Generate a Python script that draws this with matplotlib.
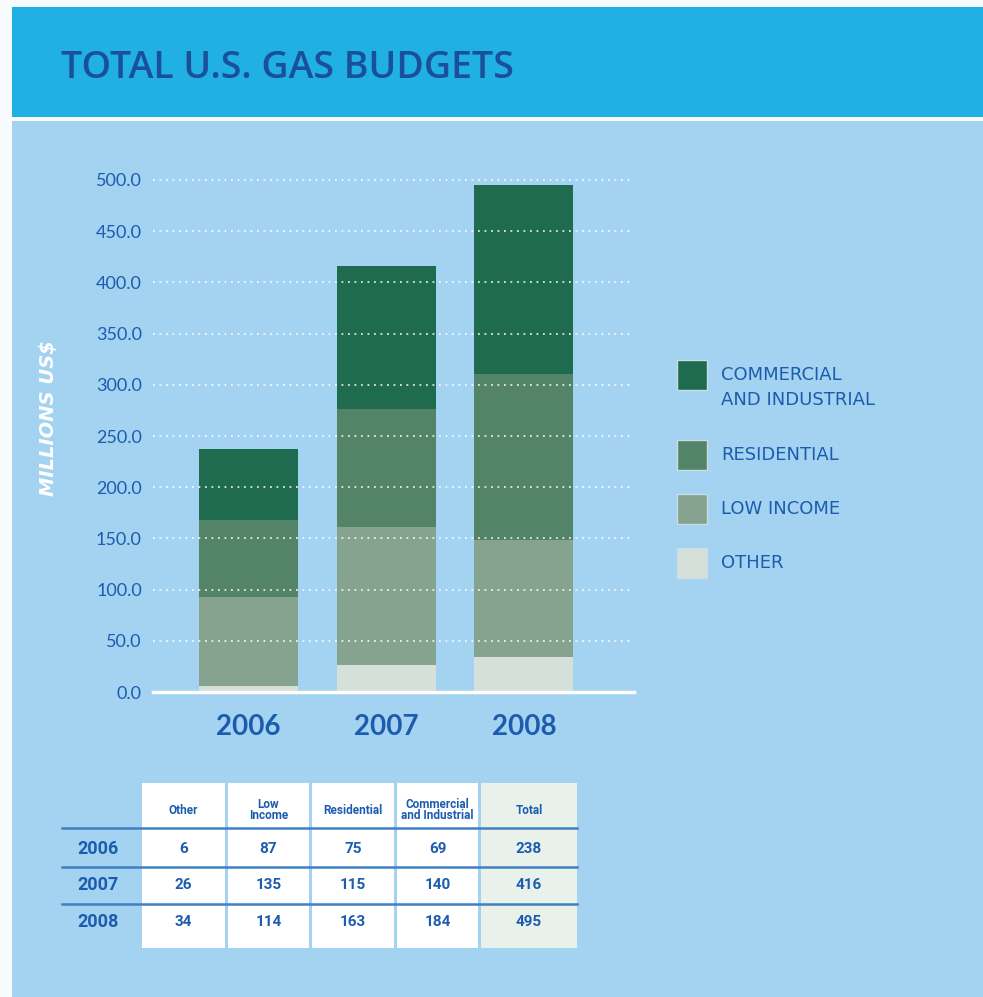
import matplotlib
matplotlib.use("Agg")
import matplotlib.pyplot as plt
from matplotlib.patches import Rectangle
import numpy as np

# ---- data ----
YEARS = ["2006", "2007", "2008"]
OTHER = [6, 26, 34]
LOW_INCOME = [87, 135, 114]
RESIDENTIAL = [75, 115, 163]
COMMERCIAL = [69, 140, 184]
TOTAL = [238, 416, 495]
YTICKS = [0, 50, 100, 150, 200, 250, 300, 350, 400, 450, 500]
LEGEND_LABELS = ["COMMERCIAL\nAND INDUSTRIAL", "RESIDENTIAL", "LOW INCOME", "OTHER"]
TABLE_HEADERS = ["Other", "Low\nIncome", "Residential", "Commercial\nand Industrial", "Total"]

# ---- style ----
W, H = 983, 997
HEADER = "#21b0e4"; PANEL = "#a3d3f0"; NAVY = "#1a4f9a"; BLUE = "#1c5cb0"
C_COM = "#1e6b50"; C_RES = "#548468"; C_LOW = "#86a390"; C_OTH = "#d6e0da"
TOTAL_BG = "#e8f2ea"; RULE = "#3f7fc4"
SANS = ["Lato", "DejaVu Sans"]
WIDE = ["DejaVu Sans"]
NARROW = ["Liberation Sans Narrow", "Roboto", "DejaVu Sans"]


def box(x0, y0, x1, y1):
    return [x0 / W, 1 - y1 / H, (x1 - x0) / W, (y1 - y0) / H]


fig = plt.figure(figsize=(W / 100, H / 100), dpi=100)
fig.patch.set_facecolor("#f7fbfe")

# background layer in pixel coordinates
bg = fig.add_axes([0, 0, 1, 1], zorder=0)
bg.set_xlim(0, W); bg.set_ylim(H, 0); bg.axis("off")
bg.add_patch(Rectangle((12, 7), W - 12, 110, color=HEADER, lw=0))
bg.add_patch(Rectangle((12, 121), W - 12, H - 121, color=PANEL, lw=0))
bg.text(61, 68, "TOTAL U.S. GAS BUDGETS", fontsize=27, color=NAVY,
        family=["Open Sans", "DejaVu Sans"], fontweight="semibold", va="center", ha="left")
bg.text(49, 418, "MILLIONS US$", rotation=90, fontsize=14, color="white",
        family=WIDE, fontweight="bold", style="italic", va="center", ha="center")

# ---- stacked bars ----
ax = fig.add_axes(box(153, 180, 634, 692), zorder=1)
ax.set_facecolor("none")
x = np.arange(len(YEARS))
bottom = np.zeros(len(YEARS))
for vals, col in [(OTHER, C_OTH), (LOW_INCOME, C_LOW), (RESIDENTIAL, C_RES), (COMMERCIAL, C_COM)]:
    ax.bar(x, vals, bottom=bottom, width=0.72, color=col, lw=0, zorder=2)
    bottom += np.array(vals)
ax.set_xlim(-0.695, 2.80)
ax.set_ylim(0, 500)
ax.set_yticks(YTICKS)
ax.set_yticklabels([f"{v:.1f}" for v in YTICKS], fontsize=13, color=BLUE, family=SANS)
ax.set_xticks(x)
ax.set_xticklabels(YEARS, fontsize=20, color=BLUE, family=SANS, fontweight="bold")
ax.tick_params(axis="y", length=0, pad=8)
ax.tick_params(axis="x", length=0, pad=16)
for v in YTICKS[1:]:
    ax.axhline(v, color="white", lw=1.3, ls=(0, (1, 2.6)), alpha=0.85, zorder=3, clip_on=False)
for s in ("top", "right", "left"):
    ax.spines[s].set_visible(False)
ax.spines["bottom"].set_color("white")
ax.spines["bottom"].set_linewidth(2.5)

# ---- legend ----
leg_colors = [C_COM, C_RES, C_LOW, C_OTH]
leg_tops = [360, 440, 494, 548]
for lab, col, top in zip(LEGEND_LABELS, leg_colors, leg_tops):
    bg.add_patch(Rectangle((677, top), 30, 30, facecolor=col, edgecolor="#c8dde6", lw=1, zorder=2))
    lines = lab.split("\n")
    for k, line in enumerate(lines):
        bg.text(721, top + 15 + 25 * k, line, fontsize=13, color=BLUE, family=WIDE,
                va="center", ha="left")

# ---- table ----
col_x = [(142, 225), (228, 309), (312, 394), (397, 478), (481, 577)]
t_top, t_bot = 783, 948
for i, (x0, x1) in enumerate(col_x):
    bg.add_patch(Rectangle((x0, t_top), x1 - x0, t_bot - t_top,
                           color=TOTAL_BG if i == 4 else "white", lw=0, zorder=2))
    bg.text((x0 + x1) / 2, 810, TABLE_HEADERS[i], fontsize=8.5, color=BLUE, family=NARROW,
            fontweight="bold", ha="center", va="center", linespacing=0.8, zorder=3)
for yl in (828, 867, 904):
    bg.plot([62, 577], [yl, yl], color=RULE, lw=1.8, zorder=4)
row_y = [849, 885, 922]
for r, yr in enumerate(YEARS):
    row_vals = [OTHER[r], LOW_INCOME[r], RESIDENTIAL[r], COMMERCIAL[r], TOTAL[r]]
    bg.text(98, row_y[r], yr, fontsize=13, color=BLUE, family=NARROW, fontweight="bold",
            ha="center", va="center", zorder=3)
    for (x0, x1), v in zip(col_x, row_vals):
        bg.text((x0 + x1) / 2, row_y[r], str(v), fontsize=11, color=BLUE, family=NARROW,
                fontweight="bold", ha="center", va="center", zorder=3)

fig.savefig("out.png", dpi=100, facecolor=fig.get_facecolor())
